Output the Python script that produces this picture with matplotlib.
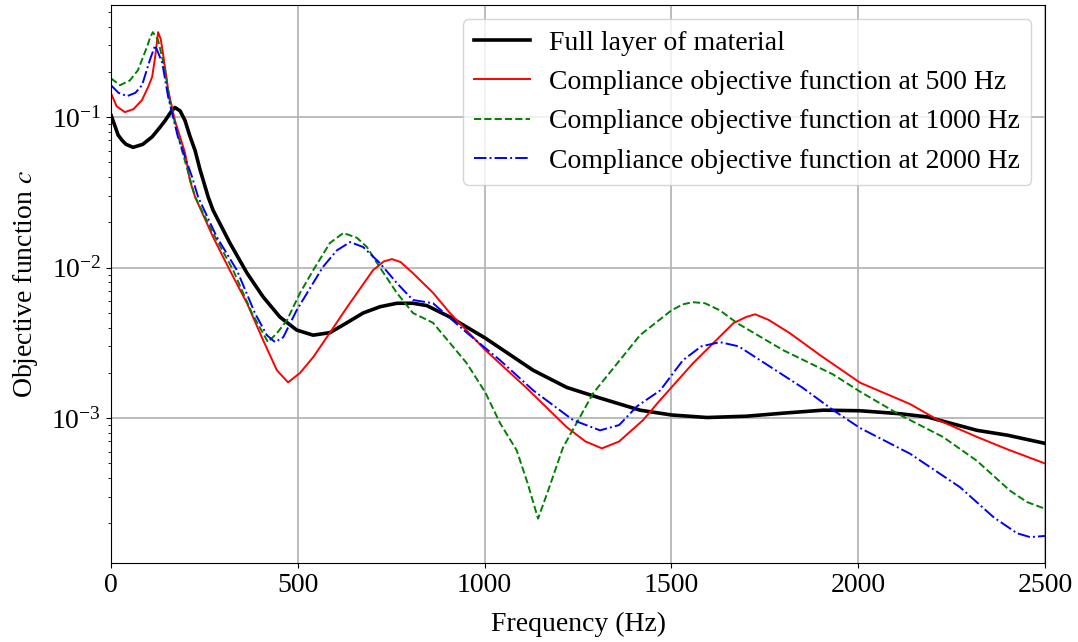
import matplotlib
matplotlib.use("Agg")
import matplotlib.pyplot as plt

# Full layer of material
freq_full = [0, 10, 19, 30, 40, 59, 85, 110, 130, 145, 160, 171, 185, 198, 211, 225,
             238, 260, 273, 318, 364, 407, 452, 497, 541, 586, 631, 675, 720, 765,
             808, 845, 907, 1002, 1130, 1220, 1309, 1416, 1500, 1595, 1700, 1800,
             1906, 2005, 2112, 2184, 2318, 2400, 2500]
c_full = [0.103, 0.088, 0.076, 0.070, 0.066, 0.063, 0.066, 0.074, 0.085, 0.095,
          0.108, 0.116, 0.110, 0.095, 0.075, 0.060, 0.045, 0.0295, 0.0241, 0.0146,
          0.0092, 0.0064, 0.0047, 0.00385, 0.00356, 0.0037, 0.0043, 0.0050, 0.0055,
          0.0058, 0.0058, 0.0056, 0.0047, 0.0034, 0.00208, 0.0016, 0.00136, 0.00113,
          0.00105, 0.00101, 0.00103, 0.00108, 0.00113, 0.00112, 0.00107, 0.00102,
          0.00083, 0.00077, 0.00068]

# Compliance objective at 500 Hz
freq_500 = [0, 15, 37, 60, 83, 100, 110, 118, 126, 133, 139, 153, 171, 198, 211,
            225, 273, 318, 364, 407, 444, 474, 506, 541, 586, 632, 701, 730, 752,
            775, 808, 862, 907, 1002, 1113, 1220, 1270, 1314, 1360, 1398, 1424,
            1470, 1558, 1666, 1700, 1724, 1760, 1817, 1900, 2005, 2139, 2211, 2318,
            2400, 2500]
c_500 = [0.144, 0.118, 0.108, 0.113, 0.13, 0.16, 0.185, 0.25, 0.367, 0.33, 0.266,
         0.151, 0.095, 0.058, 0.038, 0.0295, 0.016, 0.0096, 0.0058, 0.0033, 0.00208,
         0.00173, 0.0020, 0.00254, 0.0037, 0.00547, 0.0096, 0.0110, 0.0114, 0.0109,
         0.0092, 0.0068, 0.0050, 0.00283, 0.00158, 0.00087, 0.00070, 0.00063,
         0.00070, 0.00085, 0.00097, 0.00132, 0.00232, 0.00428, 0.0047, 0.0049,
         0.0045, 0.00367, 0.0026, 0.00172, 0.00124, 0.00098, 0.00075, 0.00062,
         0.0005]

# Compliance objective at 1000 Hz
freq_1000 = [0, 24, 50, 72, 96, 105, 112, 126, 145, 158, 190, 225, 273, 327, 377,
             420, 444, 471, 506, 541, 586, 622, 658, 685, 720, 765, 808, 862, 952,
             1002, 1041, 1086, 1115, 1143, 1170, 1210, 1291, 1416, 1500, 1530, 1557,
             1590, 1630, 1676, 1799, 1933, 2005, 2112, 2227, 2318, 2406, 2452, 2500]
c_1000 = [0.181, 0.163, 0.175, 0.205, 0.292, 0.34, 0.367, 0.325, 0.205, 0.124,
          0.060, 0.0295, 0.017, 0.0096, 0.005, 0.0032, 0.00367, 0.00448, 0.0068,
          0.0096, 0.0146, 0.017, 0.0158, 0.0137, 0.010, 0.0068, 0.0050, 0.0043,
          0.00232, 0.00148, 0.00093, 0.00061, 0.00037, 0.000215, 0.00033, 0.00064,
          0.00147, 0.00356, 0.0052, 0.0057, 0.0059, 0.0058, 0.0052, 0.00428,
          0.00283, 0.00195, 0.0015, 0.00105, 0.00075, 0.00052, 0.00033, 0.000277,
          0.00025]

# Compliance objective at 2000 Hz
freq_2000 = [0, 20, 43, 65, 83, 104, 118, 137, 153, 179, 217, 233, 283, 337, 385,
             417, 439, 461, 497, 567, 604, 640, 675, 720, 765, 808, 862, 952, 1041,
             1130, 1237, 1309, 1360, 1408, 1470, 1531, 1580, 1630, 1680, 1737, 1850,
             1933, 2005, 2139, 2273, 2362, 2425, 2460, 2500]
c_2000 = [0.163, 0.145, 0.138, 0.145, 0.163, 0.24, 0.30, 0.23, 0.136, 0.074, 0.04,
          0.0295, 0.016, 0.0096, 0.005, 0.00356, 0.0032, 0.00345, 0.00522, 0.0101,
          0.013, 0.0148, 0.0137, 0.0107, 0.0079, 0.0061, 0.0058, 0.0037, 0.00243,
          0.00153, 0.00097, 0.00083, 0.00090, 0.0012, 0.00153, 0.00243, 0.0030,
          0.0032, 0.0030, 0.00243, 0.0016, 0.00113, 0.00086, 0.00058, 0.000347,
          0.00022, 0.000172, 0.000162, 0.000165]

labels = ["Full layer of material",
          "Compliance objective function at 500 Hz",
          "Compliance objective function at 1000 Hz",
          "Compliance objective function at 2000 Hz"]

plt.rcParams['font.family'] = ['Liberation Serif', 'DejaVu Serif']
plt.rcParams['mathtext.fontset'] = 'stix'
plt.rcParams['font.size'] = 20

fig = plt.figure(figsize=(10.78, 6.42), dpi=100)
ax = fig.add_axes([0.103, 0.123, 0.8664, 0.869])

ax.semilogy(freq_full, c_full, color='black', lw=2.6, label=labels[0])
ax.semilogy(freq_500, c_500, color='red', lw=1.4, label=labels[1])
ax.semilogy(freq_1000, c_1000, color='green', lw=1.4, ls='--', label=labels[2])
ax.semilogy(freq_2000, c_2000, color='blue', lw=1.4, ls='-.', label=labels[3])

ax.set_xlim(0, 2500)
ax.set_ylim(1.09e-4, 0.555)
ax.set_xticks([0, 500, 1000, 1500, 2000, 2500])
ax.grid(True, which='major', color='#b0b0b0', lw=1.2)
ax.set_xlabel('Frequency (Hz)', labelpad=10)
ax.set_ylabel('Objective function $c$', labelpad=8)
ax.legend(loc='upper right', fontsize=20, handlelength=2.0, labelspacing=0.5,
          borderaxespad=0.5, handletextpad=0.7)

fig.savefig('out.png', dpi=100)
